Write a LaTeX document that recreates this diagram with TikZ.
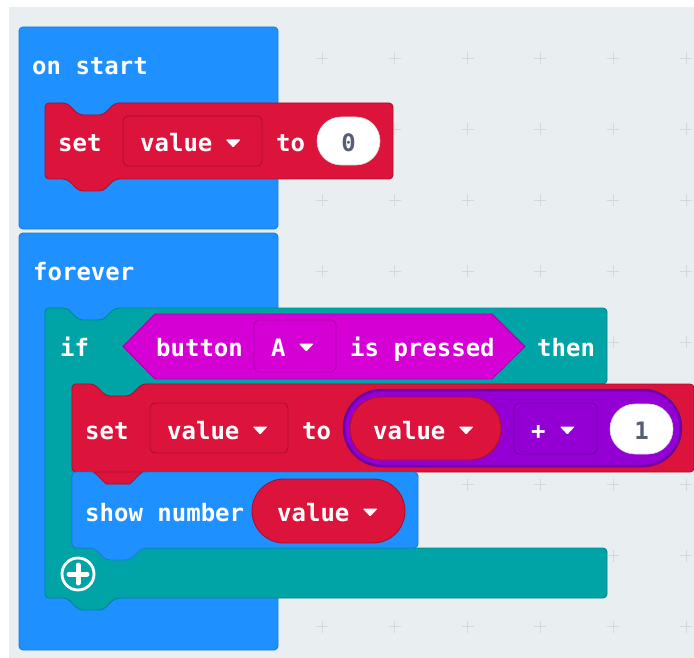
\documentclass[tikz,border=0pt]{standalone}
\usepackage{fontspec}
\newfontfamily\blockfont{DejaVu Sans Mono}

\definecolor{canvas}{HTML}{E9EEF0}
\definecolor{gridmark}{HTML}{D2D8DB}
\definecolor{basic}{HTML}{1E90FF}
\definecolor{basicedge}{HTML}{1B7AD9}
\definecolor{variables}{HTML}{DC143C}
\definecolor{variablesedge}{HTML}{A90F2E}
\definecolor{logic}{HTML}{00A4A6}
\definecolor{logicedge}{HTML}{00878A}
\definecolor{input}{HTML}{D400D4}
\definecolor{inputedge}{HTML}{A500A8}
\definecolor{mathblock}{HTML}{9400D3}
\definecolor{mathedge}{HTML}{6E00A3}
\definecolor{numgrey}{HTML}{575E75}

% statement block with a notch on top and a tab below
\newcommand{\stackblock}[4]{(#1,#2) -- ({#1+22},#2) -- ({#1+34},{#2+12}) -- ({#1+58},{#2+12}) -- ({#1+70},#2) -- (#3,#2) -- (#3,#4) -- ({#1+70},#4) -- ({#1+58},{#4+12}) -- ({#1+34},{#4+12}) -- ({#1+22},#4) -- (#1,#4) -- cycle}

\tikzset{
  blk/.style 2 args={fill=#1, draw=#2, line width=0.9pt, rounded corners=4pt},
  ddbox/.style 2 args={fill=#1, draw=#2, line width=0.9pt, rounded corners=5pt},
  lbl/.style={text=white, font=\blockfont\bfseries\fontsize{24}{28}\selectfont, inner sep=0pt, anchor=base west, text height=17pt, text depth=0pt},
  numlbl/.style={lbl, text=numgrey, anchor=base},
  ddarrow/.pic={\fill[white, rounded corners=1pt] (0,-4) -- (15,-4) -- (7.5,4) -- cycle;},
  gridplus/.pic={\draw[gridmark, line width=0.8pt] (-6,0) -- (6,0) (0,-6) -- (0,6);}
}

\begin{document}
\begin{tikzpicture}[x=1pt, y=-1pt]

  \useasboundingbox (0,0) rectangle (694,658);

  % workspace
  \fill[white] (0,0) rectangle (694,658);
  \fill[canvas] (9,7) rectangle (694,658);
  \foreach \gx in {0,...,5}
    \foreach \gy in {0,...,8}
      \pic at ({322+72.8*\gx},{58+71.1*\gy}) {gridplus};

  % on start
  \draw[blk={basic}{basicedge}] (19,27) rectangle (278,229);
  \node[lbl] (onstart) at (32,75) {on start};

  \draw[blk={variables}{variablesedge}] \stackblock{45}{103}{393}{179};
  \node[lbl] (set1) at (58,152) {set};
  \draw[ddbox={variables}{variablesedge}] (123,116) rectangle (262,166);
  \node[lbl] (var1) at (140,152) {value};
  \pic at ([xshift=13pt]var1.east) {ddarrow};
  \node[lbl] (to1) at (276,152) {to};
  \draw[fill=white, draw=white!85!black, line width=0.6pt, rounded corners=24pt] (317,117) rectangle (380,165);
  \node[numlbl] (zero) at (348.5,152) {0};

  % forever
  \draw[blk={basic}{basicedge}] (19,233) rectangle (278,650);
  \node[lbl] (forever) at (33,280) {forever};

  % if ... then
  \draw[blk={logic}{logicedge}] (45,308) -- (67,308) -- (79,320) -- (103,320) -- (115,308) -- (607,308)
    -- (607,384) -- (142,384) -- (130,396) -- (106,396) -- (94,384) -- (72,384) -- (72,548) -- (607,548)
    -- (607,598) -- (115,598) -- (103,610) -- (79,610) -- (67,598) -- (45,598) -- cycle;
  \node[lbl] (if) at (60,356) {if};
  \draw[fill=input, draw=inputedge, line width=0.9pt] (123,346.5) -- (155,314) -- (492,314) -- (525,346.5) -- (492,379) -- (155,379) -- cycle;
  \node[lbl] (button) at (156,356) {button};
  \draw[ddbox={input}{inputedge}] (254,320) rectangle (336,372);
  \node[lbl] (btnA) at (271,356) {A};
  \pic at ([xshift=13pt]btnA.east) {ddarrow};
  \node[lbl] (pressed) at (350,356) {is pressed};
  \node[lbl] (then) at (537,356) {then};

  % change value
  \draw[blk={variables}{variablesedge}] \stackblock{72}{384}{694}{472};
  \node[lbl] (set2) at (85,439) {set};
  \draw[ddbox={variables}{variablesedge}] (150,403) rectangle (288,453);
  \node[lbl] (var2) at (167,439) {value};
  \pic at ([xshift=13pt]var2.east) {ddarrow};
  \node[lbl] (to2) at (302,439) {to};
  \draw[fill=mathblock, draw=mathedge, line width=2.5pt, rounded corners=38pt] (344,390) rectangle (681,466);
  \draw[fill=variables, draw=variablesedge, line width=0.9pt, rounded corners=31pt] (350,397) rectangle (501,460);
  \node[lbl] (var3) at (373,439) {value};
  \pic at ([xshift=13pt]var3.east) {ddarrow};
  \draw[ddbox={mathblock}{mathedge}] (514,403) rectangle (597,454);
  \node[lbl] (plus) at (531,439) {+};
  \pic at ([xshift=14pt]plus.east) {ddarrow};
  \draw[fill=white, draw=white!85!black, line width=0.6pt, rounded corners=25pt] (610,404) rectangle (673,454);
  \node[numlbl] (one) at (641.5,439) {1};

  % show number
  \draw[blk={basic}{basicedge}] \stackblock{72}{472}{418}{548};
  \draw[fill=variables, draw=variablesedge, line width=0.6pt] (94,472) -- (106,484) -- (130,484) -- (142,472) -- cycle;
  \node[lbl] (show) at (85,521) {show number};
  \draw[fill=variables, draw=variablesedge, line width=0.9pt, rounded corners=32pt] (252,479) rectangle (405,543);
  \node[lbl] (var4) at (277,521) {value};
  \pic at ([xshift=13pt]var4.east) {ddarrow};

  % add branch
  \draw[white, line width=2.8pt] (78,574) circle [radius=16pt];
  \draw[white, line width=5pt, line cap=round] (69,574) -- (87,574) (78,565) -- (78,583);

\end{tikzpicture}
\end{document}
